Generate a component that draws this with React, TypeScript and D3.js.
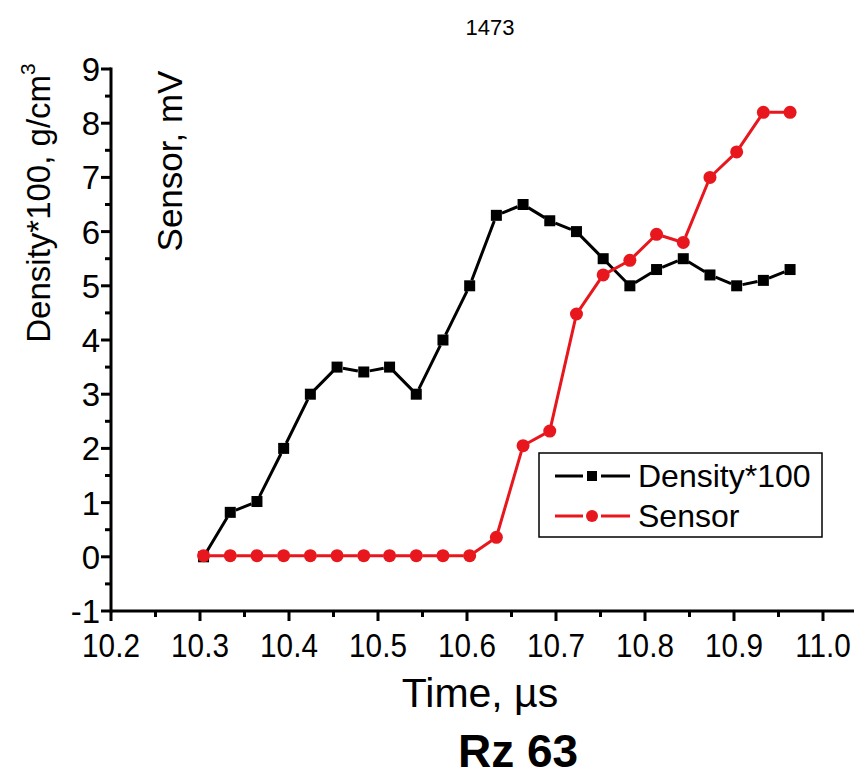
import React from "react";
import * as d3 from "d3";

const times = [10.304, 10.334, 10.364, 10.394, 10.424, 10.454, 10.484, 10.513, 10.543, 10.573, 10.603, 10.633, 10.663, 10.693, 10.723, 10.753, 10.783, 10.813, 10.843, 10.873, 10.903, 10.933, 10.963];
const density = [0, 0.82, 1.02, 2.0, 3.0, 3.5, 3.41, 3.5, 3.0, 4.0, 5.0, 6.3, 6.5, 6.2, 6.0, 5.5, 5.0, 5.3, 5.5, 5.2, 5.0, 5.1, 5.3];
const sensor = [0.02, 0.02, 0.02, 0.02, 0.02, 0.02, 0.02, 0.02, 0.02, 0.02, 0.02, 0.36, 2.05, 2.32, 4.48, 5.2, 5.47, 5.95, 5.8, 7.0, 7.47, 8.2, 8.2];
const xTicks = [10.2, 10.3, 10.4, 10.5, 10.6, 10.7, 10.8, 10.9, 11.0];
const yTicks = [-1, 0, 1, 2, 3, 4, 5, 6, 7, 8, 9];
const seriesNames = ["Density*100", "Sensor"];

const FONT = "'Liberation Sans', Arial, sans-serif";
const RED = "#e8161d";

function gappedSegments(pts: [number, number][], gap: number) {
  const segs: string[] = [];
  for (let i = 0; i < pts.length - 1; i++) {
    const [x0, y0] = pts[i];
    const [x1, y1] = pts[i + 1];
    const dx = x1 - x0, dy = y1 - y0;
    const len = Math.hypot(dx, dy);
    if (len <= 2 * gap) continue;
    const ux = dx / len, uy = dy / len;
    segs.push(`M${x0 + ux * gap},${y0 + uy * gap}L${x1 - ux * gap},${y1 - uy * gap}`);
  }
  return segs.join("");
}

export default function App() {
  const x = d3.scaleLinear().domain([10.2, 11.0]).range([111, 823]);
  const y = d3.scaleLinear().domain([-1, 9]).range([611, 69]);
  const xMinor = d3.range(10.25, 11.0, 0.1);
  const yMinor = d3.range(-0.5, 9, 1);

  const dPts: [number, number][] = times.map((t, i) => [x(t), y(density[i])]);
  const sPts: [number, number][] = times.map((t, i) => [x(t), y(sensor[i])]);

  return (
    <svg width={854} height={776} style={{ position: "absolute", left: 0, top: 0, background: "#fff" }} fontFamily={FONT}>
      <rect x={0} y={0} width={854} height={776} fill="#fff" />
      <text x={490} y={35} fontSize={22} textAnchor="middle">1473</text>

      {/* axes */}
      <line x1={111} y1={611} x2={856} y2={611} stroke="#000" strokeWidth={3} />
      <line x1={111} y1={67.5} x2={111} y2={612.5} stroke="#000" strokeWidth={3} />
      {xTicks.map((t) => (
        <g key={"xt" + t}>
          <line x1={x(t)} x2={x(t)} y1={611} y2={621} stroke="#000" strokeWidth={3} />
          <text transform={`translate(${x(t)},657) scale(0.9,1)`} fontSize={33} textAnchor="middle">{t.toFixed(1)}</text>
        </g>
      ))}
      {xMinor.map((t) => (
        <line key={"xm" + t} x1={x(t)} x2={x(t)} y1={611} y2={617} stroke="#000" strokeWidth={3} />
      ))}
      {yTicks.map((v) => (
        <g key={"yt" + v}>
          <line x1={101} x2={111} y1={y(v)} y2={y(v)} stroke="#000" strokeWidth={3} />
          <text x={100} y={y(v) + 12} fontSize={33} textAnchor="end">{v}</text>
        </g>
      ))}
      {yMinor.map((v) => (
        <line key={"ym" + v} x1={105} x2={111} y1={y(v)} y2={y(v)} stroke="#000" strokeWidth={3} />
      ))}

      {/* axis titles */}
      <text transform="translate(50,203) rotate(-90)" fontSize={33} textAnchor="middle">
        Density*100, g/cm<tspan fontSize={21} dy={-15}>3</tspan>
      </text>
      <text transform="translate(182,161) rotate(-90)" fontSize={35} textAnchor="middle">Sensor, mV</text>
      <text x={480} y={707} fontSize={41} textAnchor="middle">Time, µs</text>
      <text x={518} y={767} fontSize={46} fontWeight="bold" textAnchor="middle">Rz 63</text>

      {/* density series */}
      <path d={gappedSegments(dPts, 6)} stroke="#000" strokeWidth={3} fill="none" />
      {dPts.map(([px, py], i) => (
        <rect key={"d" + i} x={px - 5.5} y={py - 5.5} width={11} height={11} fill="#000" />
      ))}
      {/* sensor series */}
      <path d={gappedSegments(sPts, 6)} stroke={RED} strokeWidth={3} fill="none" />
      {sPts.map(([px, py], i) => (
        <circle key={"s" + i} cx={px} cy={py} r={6.5} fill={RED} />
      ))}

      {/* legend */}
      <rect x={539} y={453} width={283} height={84} fill="#fff" stroke="#000" strokeWidth={1.5} />
      <path d="M555,476L583,476M601,476L630,476" stroke="#000" strokeWidth={3} />
      <rect x={587} y={471} width={10} height={10} fill="#000" />
      <text x={638} y={487} fontSize={32}>{seriesNames[0]}</text>
      <path d="M555,516L583,516M601,516L630,516" stroke={RED} strokeWidth={3} />
      <circle cx={592} cy={516} r={6} fill={RED} />
      <text x={638} y={527} fontSize={32}>{seriesNames[1]}</text>
    </svg>
  );
}
